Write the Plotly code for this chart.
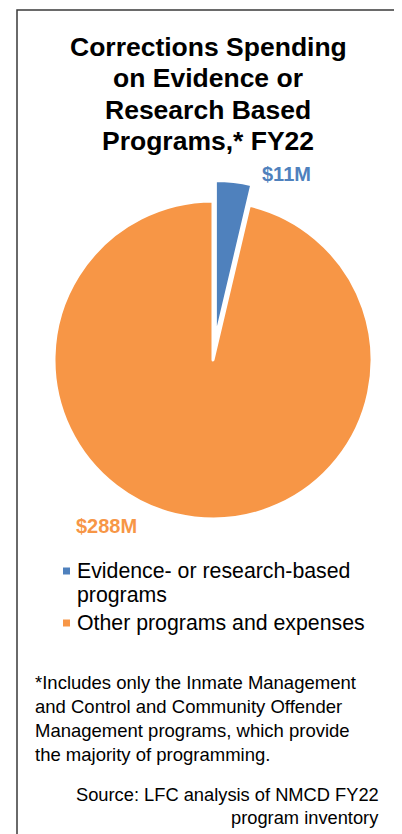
import plotly.graph_objects as go

# ---- data ----
labels = ["Evidence- or research-based programs", "Other programs and expenses"]
legend_lines = [["Evidence- or research-based", "programs"], ["Other programs and expenses"]]
values = [11, 288]          # $ millions, FY22
colors = ["#4F81BD", "#F79646"]
pulls = [0.13, 0.0]
title_lines = ["Corrections Spending", "on Evidence or", "Research Based", "Programs,* FY22"]
footnote_lines = [
    "*Includes only the Inmate Management",
    "and Control and Community Offender",
    "Management programs, which provide",
    "the majority of programming.",
]
source_lines = ["Source: LFC analysis of NMCD FY22", "program inventory"]

W, H = 402, 834
OFF = 8  # page body margin around the plot div
FONT = "Liberation Sans, Arial, sans-serif"


def px(x):
    return (x - OFF) / W


def py(y):
    return 1 - (y - OFF) / H


# pie box: radius 159 px with pull 0.13 -> half box 179.7 px
cx, cy, r = 213, 360, 159
half = r * (1 + max(pulls))

fig = go.Figure()
fig.add_trace(go.Pie(
    labels=labels,
    values=values,
    sort=False,
    direction="clockwise",
    rotation=0,
    pull=pulls,
    marker=dict(colors=colors, line=dict(color="white", width=3)),
    textinfo="none",
    hoverinfo="label+value",
    showlegend=False,
    domain=dict(x=[px(cx - half), px(cx + half)], y=[py(cy + half), py(cy - half)]),
))

annotations = []
# title
for i, t in enumerate(title_lines):
    annotations.append(dict(
        text=t, x=px(208), y=py(47 + i * 31.3), xref="paper", yref="paper",
        xanchor="center", yanchor="middle", showarrow=False,
        font=dict(family=FONT, size=26.5, color="black", weight="bold"),
    ))

# data labels
label_pos = [(286, 174), (106, 526)]
for v, c, (lx, ly) in zip(values, colors, label_pos):
    annotations.append(dict(
        text=f"${v}M", x=px(lx), y=py(ly), xref="paper", yref="paper",
        xanchor="center", yanchor="middle", showarrow=False,
        font=dict(family=FONT, size=20, color=c, weight="bold"),
    ))

# legend
shapes = []
legend_y = [571, 623]
for lines, c, ly in zip(legend_lines, colors, legend_y):
    shapes.append(dict(type="rect", xref="paper", yref="paper",
                       x0=px(63), x1=px(70), y0=py(ly + 3.5), y1=py(ly - 3.5),
                       fillcolor=c, line=dict(width=0)))
    for j, t in enumerate(lines):
        annotations.append(dict(
            text=t, x=px(75), y=py(ly + j * 24), xref="paper", yref="paper",
            xanchor="left", yanchor="middle", showarrow=False,
            font=dict(family=FONT, size=21.3, color="black"),
        ))

# footnote
for j, t in enumerate(footnote_lines):
    annotations.append(dict(
        text=t, x=px(33), y=py(682 + j * 24.3), xref="paper", yref="paper",
        xanchor="left", yanchor="middle", showarrow=False,
        font=dict(family=FONT, size=18.5, color="black"),
    ))

# source
for j, t in enumerate(source_lines):
    annotations.append(dict(
        text=t, x=px(381), y=py(794 + j * 23), xref="paper", yref="paper",
        xanchor="right", yanchor="middle", showarrow=False,
        font=dict(family=FONT, size=18.3, color="black"),
    ))

# frame
shapes.append(dict(type="rect", xref="paper", yref="paper",
                   x0=px(17), x1=px(399), y0=-0.05, y1=py(10),
                   line=dict(color="#3a3a3a", width=1.5), fillcolor="rgba(0,0,0,0)"))

fig.update_layout(
    width=W, height=H,
    margin=dict(l=0, r=0, t=0, b=0),
    paper_bgcolor="white", plot_bgcolor="white",
    annotations=annotations, shapes=shapes,
    showlegend=False,
)

fig.write_html("out.html")
